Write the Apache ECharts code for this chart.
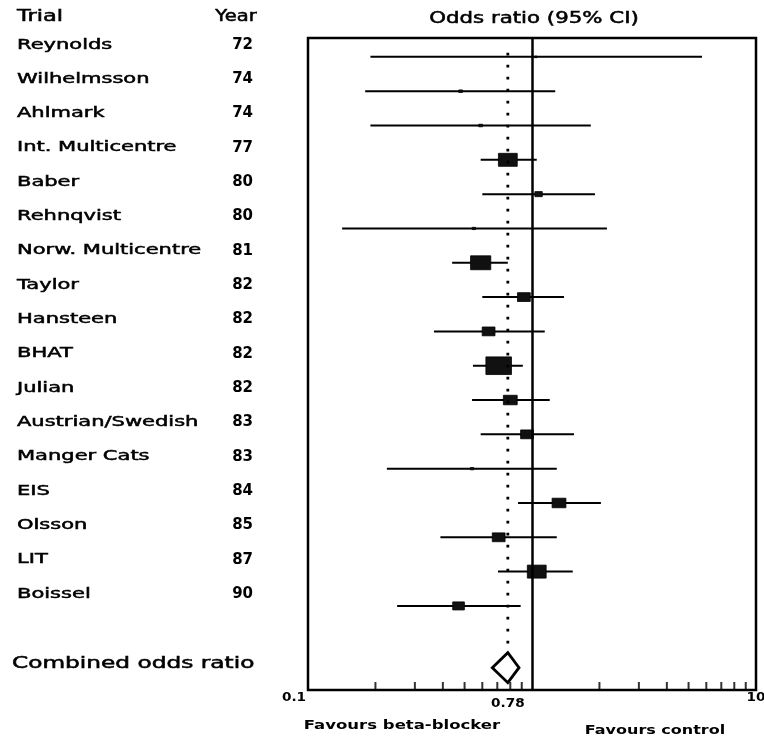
<!DOCTYPE html>
<html><head><meta charset="utf-8">
<script src="https://cdn.jsdelivr.net/npm/echarts@6/dist/echarts.min.js"></script>
<style>html,body{margin:0;padding:0;background:#fff}#c{width:764px;height:743px}</style>
</head><body><div id="c"></div>
<script>
// ---- data ----
const trials = ['Reynolds','Wilhelmsson','Ahlmark','Int. Multicentre','Baber','Rehnqvist','Norw. Multicentre','Taylor','Hansteen','BHAT','Julian','Austrian/Swedish','Manger Cats','EIS','Olsson','LIT','Boissel'];
const years = ['72','74','74','77','80','80','81','82','82','82','82','83','83','84','85','87','90'];
const oddsRatio = [1.04,0.48,0.59,0.78,1.07,0.55,0.59,0.92,0.64,0.71,0.80,0.95,0.54,1.32,0.71,1.05,0.47];
const ciLower  = [0.19,0.18,0.19,0.59,0.60,0.142,0.44,0.60,0.365,0.545,0.54,0.59,0.225,0.866,0.39,0.705,0.25];
const ciUpper  = [5.74,1.27,1.83,1.05,1.91,2.16,0.78,1.39,1.14,0.91,1.20,1.54,1.29,2.03,1.29,1.52,0.89];
const weights  = [0.2,0.5,0.5,13,2,0.4,15,6,6,24,7,6,0.4,7,6,13,5];
const combinedLabel = 'Combined odds ratio';
const combinedOR = 0.78, combinedLower = 0.665, combinedUpper = 0.875;
const xTickLabels = [0.1, 0.78, 10];
const minorTicks = [0.2,0.3,0.4,0.5,0.6,0.7,0.8,0.9,2,3,4,5,6,7,8,9];

// ---- layout ----
const Y_MIN = -0.55, Y_MAX = 18.45, COMBINED_ROW = 17.8, DOT_TOP = -0.12;
const FONT = '"DejaVu Sans", sans-serif';

function txt(x, y, text, font, align, sx, sw) {
  return {type:'text', x:x, y:y, scaleX:sx||1, silent:true,
    style:{text:text, font:font, fill:'#000', stroke:'#000', lineWidth:sw||0,
      textAlign:align, textVerticalAlign:'middle', align:align, verticalAlign:'middle'}};
}

const chart = echarts.init(document.getElementById('c'), null, {renderer:'canvas'});
chart.setOption({
  animation:false,
  backgroundColor:'#fff',
  grid:{left:308, right:8, top:38, bottom:53, show:true, borderColor:'#000', borderWidth:2.5},
  xAxis:{type:'log', logBase:10, min:0.1, max:10, axisLine:{show:false}, axisTick:{show:false}, axisLabel:{show:false}, splitLine:{show:false}},
  yAxis:{type:'value', inverse:true, min:Y_MIN, max:Y_MAX, show:false},
  series:[
    {type:'line', data:[[combinedOR, DOT_TOP],[combinedOR, COMBINED_ROW - 0.44]], symbol:'none', silent:true,
     lineStyle:{color:'#000', width:2.8, type:[2.8, 9.2]},
     markLine:{silent:true, symbol:'none', label:{show:false}, lineStyle:{color:'#000', width:2.5, type:'solid'}, data:[{xAxis:1}]}},
    {type:'scatter', data:minorTicks.map(v=>[v, Y_MAX]), symbol:'rect', symbolSize:[2,8], symbolOffset:[0,-4], clip:false, silent:true,
     itemStyle:{color:'#000'}},
    {type:'custom', clip:false, silent:true,
     data:trials.map((t,i)=>[i, ciLower[i], oddsRatio[i], ciUpper[i], weights[i]]),
     encode:{x:[1,2,3], y:0},
     renderItem:function(params, api){
       const i = params.dataIndex, row = api.value(0);
       const lo = api.coord([api.value(1), row]);
       const pt = api.coord([api.value(2), row]);
       const hi = api.coord([api.value(3), row]);
       const h = 3.6*Math.sqrt(api.value(4)), w = 1.45*h;
       return {type:'group', children:[
         {type:'line', shape:{x1:lo[0], y1:lo[1], x2:hi[0], y2:hi[1]}, style:{stroke:'#000', lineWidth:2}},
         {type:'rect', shape:{x:pt[0]-w/2, y:pt[1]-h/2, width:w, height:h}, style:{fill:'#111', stroke:'#000', lineWidth:0.8}},
         txt(17, pt[1]-12, trials[i], '14px '+FONT, 'left', 1.5, 0.5),
         txt(253, pt[1]-12, years[i], 'bold 15px '+FONT, 'right', 1.0, 0)
       ]};
     }},
    {type:'custom', clip:false, silent:true,
     data:[[COMBINED_ROW, combinedLower, combinedOR, combinedUpper]],
     encode:{x:[1,2,3], y:0},
     renderItem:function(params, api){
       const row = api.value(0);
       const lo = api.coord([api.value(1), row]);
       const pt = api.coord([api.value(2), row]);
       const hi = api.coord([api.value(3), row]);
       const hh = 15;
       return {type:'group', children:[
         {type:'polygon', shape:{points:[[lo[0],lo[1]],[pt[0],pt[1]-hh],[hi[0],hi[1]],[pt[0],pt[1]+hh]]},
          style:{fill:'#fff', stroke:'#000', lineWidth:2.8}},
         txt(12, pt[1]-3.5, combinedLabel, '15px '+FONT, 'left', 1.55, 0.5)
       ]};
     }}
  ]
});

const px = v => chart.convertToPixel({xAxisIndex:0}, v);
const g = [
  txt(17, 17, 'Trial', '15px '+FONT, 'left', 1.5, 0.5),
  txt(236, 17, 'Year', '15px '+FONT, 'center', 1.3, 0.5),
  txt(534, 19, 'Odds ratio (95% CI)', '15px '+FONT, 'center', 1.42, 0.5),
  txt(402, 726, 'Favours beta-blocker', 'bold 13px '+FONT, 'center', 1.27, 0),
  txt(655, 731, 'Favours control', 'bold 13px '+FONT, 'center', 1.23, 0)
];
const labelOffsets = [[-14, 698], [0, 704], [0, 698]];
xTickLabels.forEach((v, k) => {
  g.push(txt(px(v) + labelOffsets[k][0], labelOffsets[k][1], String(v), 'bold 13px '+FONT, 'center', 1.05, 0));
});
chart.setOption({graphic:{elements:g}});
</script>
</body></html>
